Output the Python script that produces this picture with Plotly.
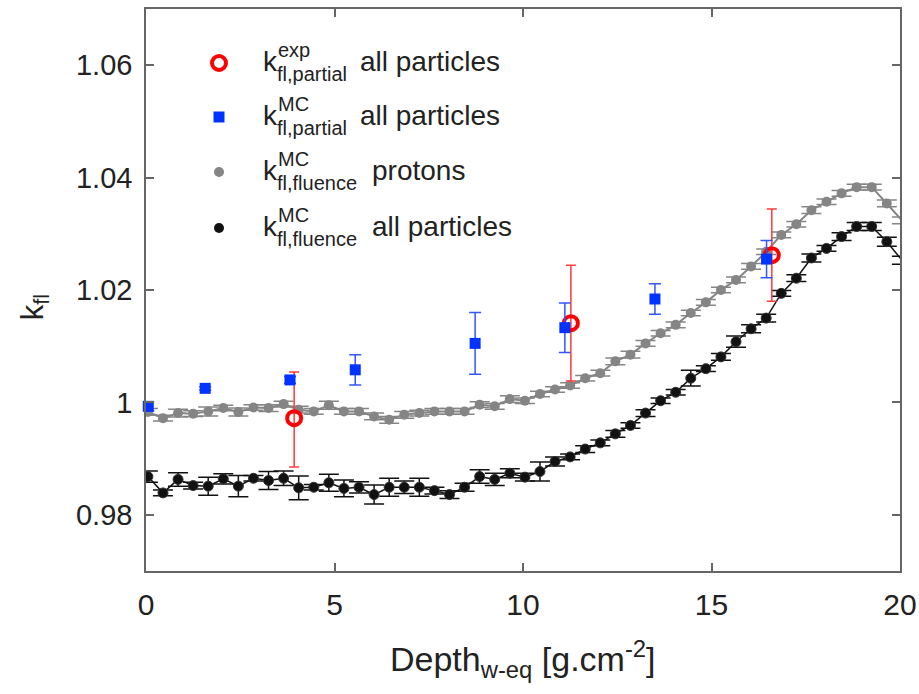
import plotly.graph_objects as go

# ---------------- data ----------------
depth = [0.05, 0.45, 0.85, 1.25, 1.65, 2.05, 2.45, 2.85, 3.25, 3.65,
         4.05, 4.45, 4.85, 5.25, 5.65, 6.05, 6.45, 6.85, 7.25, 7.65,
         8.05, 8.45, 8.85, 9.25, 9.65, 10.05, 10.45, 10.85, 11.25, 11.65,
         12.05, 12.45, 12.85, 13.25, 13.65, 14.05, 14.45, 14.85, 15.25, 15.65,
         16.05, 16.45, 16.85, 17.25, 17.65, 18.05, 18.45, 18.85, 19.25, 19.65,
         20.05]

k_fluence_protons = [0.9983, 0.9972, 0.9981, 0.9980, 0.9984, 0.9990, 0.9983, 0.9991, 0.9990, 0.9997,
                     0.9987, 0.9984, 0.9995, 0.9984, 0.9984, 0.9975, 0.9969, 0.9978, 0.9981, 0.9984,
                     0.9984, 0.9984, 0.9996, 0.9993, 1.0006, 1.0003, 1.0015, 1.0023, 1.0030, 1.0043,
                     1.0052, 1.0073, 1.0085, 1.0105, 1.0123, 1.0138, 1.0159, 1.0178, 1.0200, 1.0218,
                     1.0242, 1.0268, 1.0298, 1.0317, 1.0342, 1.0357, 1.0372, 1.0383, 1.0383, 1.0354,
                     1.0324]
err_fluence_protons = [0.0006, 0.0005, 0.0007, 0.0005, 0.0008, 0.0005, 0.0007, 0.0005, 0.0006, 0.0005,
                       0.0006, 0.0005, 0.0007, 0.0005, 0.0005, 0.0006, 0.0006, 0.0006, 0.0005, 0.0005,
                       0.0005, 0.0005, 0.0005, 0.0005, 0.0006, 0.0005, 0.0005, 0.0005, 0.0005, 0.0005,
                       0.0005, 0.0006, 0.0006, 0.0005, 0.0005, 0.0005, 0.0005, 0.0005, 0.0005, 0.0005,
                       0.0005, 0.0005, 0.0005, 0.0005, 0.0006, 0.0005, 0.0005, 0.0005, 0.0005, 0.0006,
                       0.0006]

k_fluence_all = [0.9868, 0.9839, 0.9863, 0.9852, 0.9851, 0.9864, 0.9851, 0.9865, 0.9861, 0.9865,
                 0.9848, 0.9849, 0.9857, 0.9847, 0.9849, 0.9836, 0.9849, 0.9849, 0.9849, 0.9843,
                 0.9836, 0.9849, 0.9868, 0.9863, 0.9874, 0.9867, 0.9877, 0.9895, 0.9903, 0.9917,
                 0.9928, 0.9944, 0.9959, 0.9981, 1.0003, 1.0018, 1.0043, 1.0060, 1.0081, 1.0108,
                 1.0131, 1.0150, 1.0194, 1.0221, 1.0257, 1.0274, 1.0295, 1.0313, 1.0313, 1.0286,
                 1.0253]
err_fluence_all = [0.0010, 0.0005, 0.0012, 0.0006, 0.0016, 0.0009, 0.0019, 0.0005, 0.0016, 0.0013,
                   0.0021, 0.0005, 0.0015, 0.0015, 0.0010, 0.0017, 0.0016, 0.0011, 0.0016, 0.0006,
                   0.0007, 0.0007, 0.0012, 0.0011, 0.0008, 0.0007, 0.0017, 0.0008, 0.0005, 0.0006,
                   0.0005, 0.0006, 0.0005, 0.0006, 0.0005, 0.0005, 0.0014, 0.0005, 0.0006, 0.0010,
                   0.0007, 0.0007, 0.0005, 0.0006, 0.0007, 0.0005, 0.0007, 0.0007, 0.0007, 0.0008,
                   0.0007]

exp_depth = [3.93, 11.27, 16.60]
k_partial_exp = [0.9972, 1.0141, 1.0262]
err_exp_plus = [0.0082, 0.0103, 0.0082]
err_exp_minus = [0.0087, 0.0103, 0.0082]

mc_depth = [0.06, 1.57, 3.82, 5.55, 8.73, 11.11, 13.50, 16.46]
k_partial_mc = [0.9993, 1.0025, 1.0040, 1.0058, 1.0105, 1.0133, 1.0184, 1.0255]
err_partial_mc = [0.0008, 0.0003, 0.0006, 0.0027, 0.0055, 0.0044, 0.0027, 0.0033]

x_ticks = [0, 5, 10, 15, 20]
y_ticks = [0.98, 1.00, 1.02, 1.04, 1.06]
y_tick_labels = ["0.98", "1", "1.02", "1.04", "1.06"]

legend_main = ["k", "k", "k", "k"]
legend_sup = ["exp", "MC", "MC", "MC"]
legend_sub = ["fl,partial", "fl,partial", "fl,fluence", "fl,fluence"]
legend_desc = ["all particles", "all particles", "protons", "all particles"]

# ---------------- style ----------------
FONT = "Liberation Sans, Arial, Helvetica, sans-serif"
TXT = "#222222"
AX = "#666666"
RED = "#ff0000"
RED_ERR = "#ff3a3a"
BLUE = "#0033ff"
BLUE_ERR = "#3355ff"
GRAY = "#858585"
BLACK = "#111111"

fig = go.Figure()

fig.add_trace(go.Scatter(
    x=depth, y=k_fluence_protons, mode="lines+markers",
    line=dict(color=GRAY, width=2),
    marker=dict(color=GRAY, size=10, symbol="circle"),
    error_y=dict(type="data", array=err_fluence_protons, color=GRAY, thickness=1.5, width=10),
    showlegend=False))

fig.add_trace(go.Scatter(
    x=depth, y=k_fluence_all, mode="lines+markers",
    line=dict(color=BLACK, width=1.5),
    marker=dict(color=BLACK, size=10, symbol="circle", line=dict(color="#333333", width=1)),
    error_y=dict(type="data", array=err_fluence_all, color=BLACK, thickness=1.5, width=10),
    showlegend=False))

fig.add_trace(go.Scatter(
    x=exp_depth, y=k_partial_exp, mode="markers",
    marker=dict(color="rgba(0,0,0,0)", size=14, symbol="circle", line=dict(color=RED, width=4)),
    error_y=dict(type="data", symmetric=False, array=err_exp_plus, arrayminus=err_exp_minus,
                 color=RED_ERR, thickness=1.5, width=5),
    showlegend=False))

fig.add_trace(go.Scatter(
    x=mc_depth, y=k_partial_mc, mode="markers", cliponaxis=False,
    marker=dict(color=BLUE, size=11, symbol="square"),
    error_y=dict(type="data", array=err_partial_mc, color=BLUE_ERR, thickness=1.5, width=6),
    showlegend=False))

# ---------------- custom legend (overlay axis in pixel units) ----------------
LEG_MARK_X = 219
LEG_ROWS = [63, 117, 172, 228]
LEG_K_X = 261
LEG_SUP_X = 276
LEG_DESC_X = [358, 358, 370, 370]

legend_styles = [
    dict(color="rgba(0,0,0,0)", size=14, symbol="circle", line=dict(color=RED, width=4)),
    dict(color=BLUE, size=11, symbol="square"),
    dict(color=GRAY, size=10, symbol="circle"),
    dict(color=BLACK, size=10, symbol="circle"),
]
for yy, st in zip(LEG_ROWS, legend_styles):
    fig.add_trace(go.Scatter(x=[LEG_MARK_X], y=[yy], mode="markers", marker=st,
                             xaxis="x2", yaxis="y2", showlegend=False, hoverinfo="skip"))

ann = []
for i, yy in enumerate(LEG_ROWS):
    ann.append(dict(x=LEG_K_X, y=yy - 2, xref="x2", yref="y2", text=legend_main[i],
                    xanchor="left", yanchor="middle", showarrow=False,
                    font=dict(family=FONT, size=28, color=TXT)))
    ann.append(dict(x=LEG_SUP_X, y=yy - 13, xref="x2", yref="y2", text=legend_sup[i],
                    xanchor="left", yanchor="middle", showarrow=False,
                    font=dict(family=FONT, size=20, color=TXT)))
    ann.append(dict(x=LEG_SUP_X - 1, y=yy + 11, xref="x2", yref="y2", text=legend_sub[i],
                    xanchor="left", yanchor="middle", showarrow=False,
                    font=dict(family=FONT, size=20, color=TXT)))
    ann.append(dict(x=LEG_DESC_X[i], y=yy - 2, xref="x2", yref="y2", text=legend_desc[i],
                    xanchor="left", yanchor="middle", showarrow=False,
                    font=dict(family=FONT, size=28, color=TXT)))

# axis titles
ann.append(dict(x=0.5, y=-0.156, xref="paper", yref="paper",
                text="Depth<sub>w-eq</sub> [g.cm<sup>-2</sup>]",
                xanchor="center", yanchor="middle", showarrow=False,
                font=dict(family=FONT, size=34, color=TXT)))
ann.append(dict(x=-0.148, y=0.47, xref="paper", yref="paper",
                text="k<sub>fl</sub>", textangle=-90,
                xanchor="center", yanchor="middle", showarrow=False,
                font=dict(family=FONT, size=31, color=TXT)))

fig.update_layout(
    width=919, height=694,
    margin=dict(l=146, r=19, t=9, b=123, autoexpand=False),
    paper_bgcolor="white", plot_bgcolor="white",
    font=dict(family=FONT, color=TXT),
    annotations=ann,
    xaxis=dict(range=[0, 20], tickvals=x_ticks, ticktext=[str(v) for v in x_ticks],
               ticks="inside", ticklen=8, tickwidth=1.5, tickcolor=AX,
               showline=True, linecolor=AX, linewidth=1.5, mirror="ticks",
               showgrid=False, zeroline=False, ticklabelstandoff=6, automargin=False,
               tickfont=dict(family=FONT, size=30, color=TXT)),
    yaxis=dict(range=[0.97, 1.07], tickvals=y_ticks, ticktext=y_tick_labels,
               ticks="inside", ticklen=8, tickwidth=1.5, tickcolor=AX,
               showline=True, linecolor=AX, linewidth=1.5, mirror="ticks",
               showgrid=False, zeroline=False, ticklabelstandoff=6, automargin=False,
               tickfont=dict(family=FONT, size=29, color=TXT)),
    xaxis2=dict(overlaying="x", range=[146, 900], visible=False, anchor="y2"),
    yaxis2=dict(overlaying="y", range=[571, 9], visible=False, anchor="x2"),
)

fig.write_html("out.html")
